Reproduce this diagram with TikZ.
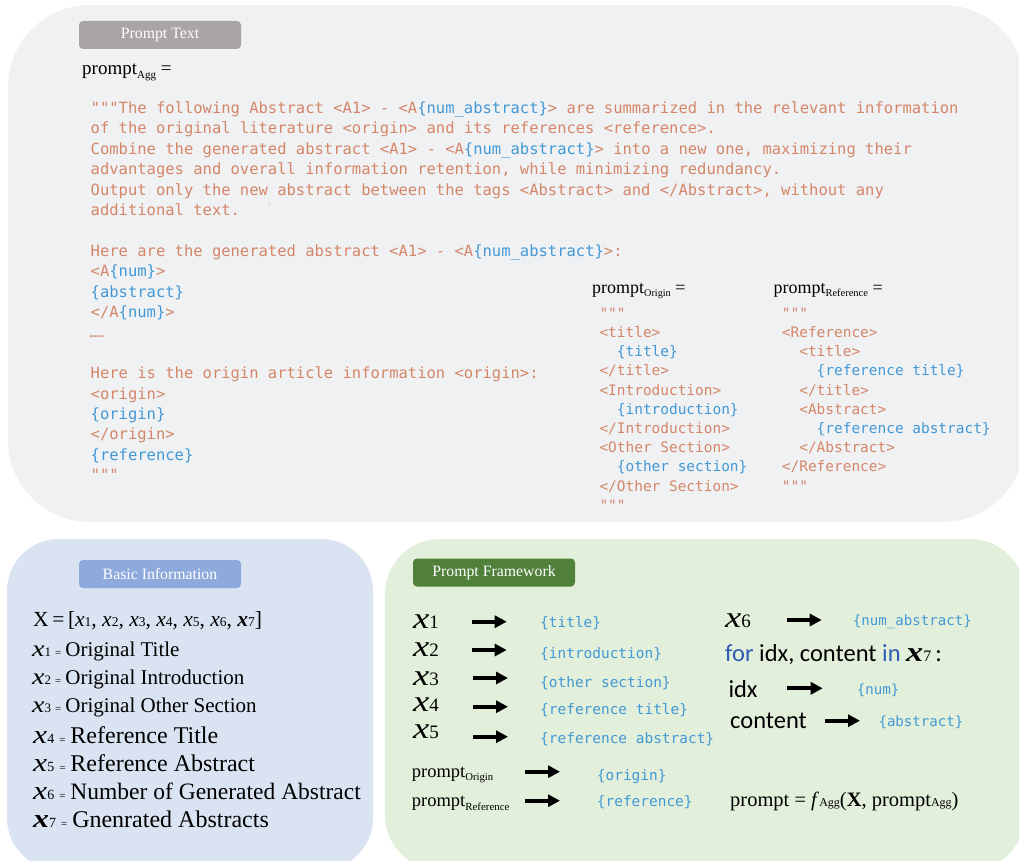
\documentclass[tikz,border=0pt]{standalone}
\usepackage{fontspec}
\usepackage{graphicx}
\setmainfont{Liberation Serif}
\setmonofont{DejaVu Sans Mono}
\newfontfamily\calib{Carlito}
\usetikzlibrary{arrows.meta}
\definecolor{panelgray}{RGB}{240,241,243}
\definecolor{taggray}{RGB}{168,165,164}
\definecolor{panelblue}{RGB}{218,227,242}
\definecolor{tagblue}{RGB}{142,169,219}
\definecolor{panelgreen}{RGB}{226,239,218}
\definecolor{taggreen}{RGB}{80,128,58}
\definecolor{codeor}{RGB}{213,134,105}
\definecolor{codebl}{RGB}{66,153,214}
\definecolor{forblue}{RGB}{46,92,178}
\newcommand\cb[1]{\textcolor{codebl}{#1}}
\newcommand\fs[1]{\fontsize{#1}{#1}\selectfont}
\newcommand\xv{\scalebox{1.22}[1]{\itshape x}}
\newcommand\xvb{\scalebox{1.22}[1]{\bfseries\itshape x}}
\newcommand\ind{\phantom{xx}}
\tikzset{
  tag/.style={rounded corners=4pt, minimum width=162pt, minimum height=28pt, inner sep=0pt, text=white, font=\fs{15.8}},
  codem/.style={font=\ttfamily\fs{15.5}, text=codeor, inner sep=0pt, anchor=base west},
  codes/.style={font=\ttfamily\fs{14.45}, text=codeor, inner sep=0pt, anchor=base west},
  codef/.style={font=\ttfamily\fs{14.45}, text=codebl, inner sep=0pt, anchor=base west},
  codeg/.style={font=\ttfamily\fs{14.1}, text=codebl, inner sep=0pt, anchor=base west},
  lbl/.style={inner sep=0pt, anchor=base west, text=black},
  xlbl/.style={lbl, text height=14pt, text depth=0.5pt},
  fat/.style={line width=4pt, -{Triangle[length=12pt,width=12pt]}},
}
\newcommand\mline[3]{\node[codem] (#1) at (90.5,#2) {#3};}
\newcommand\oline[3]{\node[codes] (#1) at (599.3,#2) {#3};}
\newcommand\rline[3]{\node[codes] (#1) at (781.7,#2) {#3};}
\begin{document}
\begin{tikzpicture}[x=1pt,y=-1pt]
\useasboundingbox (0,0) rectangle (1019,861);
\clip (0,0) rectangle (1019,861);
\fill[white] (0,0) rectangle (1019,861);
% panels
\fill[panelgray, rounded corners=82pt] (8,5) rectangle (1025,522);
\fill[panelblue, rounded corners=52pt] (7,539) rectangle (373,870);
\fill[panelgreen, rounded corners=55pt] (385,539) rectangle (1025,870);
% tags
\node[tag, fill=taggray] (tagtext) at (160,35) {Prompt Text};
\node[tag, fill=tagblue] (tagbasic) at (160,574) {Basic Information};
\node[tag, fill=taggreen] (tagframe) at (494,572.5) {Prompt Framework};
% prompt_Agg
\node[lbl, font=\fs{19}] (pagg) at (82,75) {prompt\raisebox{-3.3pt}{\fs{11}Agg} =};
% main code
\mline{m0}{113.5}{"""The following Abstract <A1> - <A\cb{\{num\_abstract\}}> are summarized in the relevant information}
\mline{m1}{133.9}{of the original literature <origin> and its references <reference>.}
\mline{m2}{154.3}{Combine the generated abstract <A1> - <A\cb{\{num\_abstract\}}> into a new one, maximizing their}
\mline{m3}{174.7}{advantages and overall information retention, while minimizing redundancy.}
\mline{m4}{195.1}{Output only the new abstract between the tags <Abstract> and </Abstract>, without any}
\mline{m5}{215.5}{additional text.}
\node[inner sep=0pt, anchor=base west, text=codeor!60, font=\ttfamily\fs{9}] (tick) at (266.5,211) {'};
\mline{m7}{256.3}{Here are the generated abstract <A1> - <A\cb{\{num\_abstract\}}>:}
\mline{m8}{276.7}{<A\cb{\{num\}}>}
\mline{m9}{297.1}{\cb{\{abstract\}}}
\mline{m10}{317.5}{</A\cb{\{num\}}>}
\node[inner sep=0pt, anchor=base west, text=codeor, font=\ttfamily\fs{12}] (m11) at (89.5,337.9) {……};
\mline{m13}{378.7}{Here is the origin article information <origin>:}
\mline{m14}{399.1}{<origin>}
\mline{m15}{419.5}{\cb{\{origin\}}}
\mline{m16}{439.9}{</origin>}
\mline{m17}{460.3}{\cb{\{reference\}}}
\mline{m18}{480.7}{"""}
% prompt origin
\node[lbl, font=\fs{18}] (porig) at (592,293.3) {prompt\raisebox{-3.4pt}{\fs{10.2}Origin} =};
\oline{o0}{318.3}{"""}
\oline{o1}{337.5}{<title>}
\oline{o2}{356.7}{\ind\cb{\{title\}}}
\oline{o3}{375.9}{</title>}
\oline{o4}{395.1}{<Introduction>}
\oline{o5}{414.3}{\ind\cb{\{introduction\}}}
\oline{o6}{433.5}{</Introduction>}
\oline{o7}{452.7}{<Other Section>}
\oline{o8}{471.9}{\ind\cb{\{other section\}}}
\oline{o9}{491.1}{</Other Section>}
\oline{o10}{510.3}{"""}
% prompt reference
\node[lbl, font=\fs{18}] (pref) at (773.3,293.3) {prompt\raisebox{-3.4pt}{\fs{10.5}Reference} =};
\rline{r0}{318.3}{"""}
\rline{r1}{337.5}{<Reference>}
\rline{r2}{356.7}{\ind<title>}
\rline{r3}{375.9}{\ind\ind\cb{\{reference title\}}}
\rline{r4}{395.1}{\ind</title>}
\rline{r5}{414.3}{\ind<Abstract>}
\rline{r6}{433.5}{\ind\ind\cb{\{reference abstract\}}}
\rline{r7}{452.7}{\ind</Abstract>}
\rline{r8}{471.9}{</Reference>}
\rline{r9}{491.1}{"""}
% basic information
\node[lbl, font=\fs{21.5}] (bx) at (33,626) {X\,=\,[\textit{x}{\fs{13.5}1}, \textit{x}{\fs{13.5}2}, \textit{x}{\fs{13.5}3}, \textit{x}{\fs{13.5}4}, \textit{x}{\fs{13.5}5}, \textit{x}{\fs{13.5}6}, \textbf{\textit{x}}{\fs{13.5}7}]};
\node[lbl, font=\fs{21}] (b1) at (32,656) {{\fs{23}\xv}{\fs{13}1}\hspace{4pt}{\fs{11}=}\hspace{4pt}Original Title};
\node[lbl, font=\fs{21}] (b2) at (32,684.3) {{\fs{23}\xv}{\fs{13}2}\hspace{4pt}{\fs{11}=}\hspace{4pt}Original Introduction};
\node[lbl, font=\fs{21}] (b3) at (32,712.7) {{\fs{23}\xv}{\fs{13}3}\hspace{4pt}{\fs{11}=}\hspace{4pt}Original Other Section};
\node[lbl, font=\fs{24}] (b4) at (33,743.3) {{\fs{26}\xv}{\fs{14}4}\hspace{5pt}{\fs{11}=}\hspace{5pt}Reference Title};
\node[lbl, font=\fs{24}] (b5) at (33,771.7) {{\fs{26}\xv}{\fs{14}5}\hspace{5pt}{\fs{11}=}\hspace{5pt}Reference Abstract};
\node[lbl, font=\fs{23.5}] (b6) at (33,799.3) {{\fs{26}\xv}{\fs{14}6}\hspace{5pt}{\fs{11}=}\hspace{5pt}Number of Generated Abstract};
\node[lbl, font=\fs{24}] (b7) at (33,827.7) {{\fs{26}\xvb}{\fs{14}7}\hspace{5pt}{\fs{11}=}\hspace{5pt}Gnenrated Abstracts};
% prompt framework left
\node[xlbl] (f1) at (413,628.3) {{\fs{30}\xv}{\fs{19}1}};
\node[xlbl] (f2) at (413,656.7) {{\fs{30}\xv}{\fs{19}2}};
\node[xlbl] (f3) at (413,685) {{\fs{30}\xv}{\fs{19}3}};
\node[xlbl] (f4) at (413,711.7) {{\fs{30}\xv}{\fs{19}4}};
\node[xlbl] (f5) at (413,738.3) {{\fs{30}\xv}{\fs{19}5}};
\node[lbl, font=\fs{18.5}] (fpo) at (411.7,777.3) {prompt\raisebox{-3.4pt}{\fs{10.7}Origin}};
\node[lbl, font=\fs{18.5}] (fpr) at (411.7,806.7) {prompt\raisebox{-3.4pt}{\fs{10.9}Reference}};
\node[codef] (t1) at (540,627) {\{title\}};
\node[codef] (t2) at (540,658) {\{introduction\}};
\node[codef] (t3) at (540,687) {\{other section\}};
\node[codef] (t4) at (540,714) {\{reference title\}};
\node[codef] (t5) at (540,743) {\{reference abstract\}};
\node[codef] (tpo) at (596.7,780) {\{origin\}};
\node[codef] (tpr) at (596.7,806.7) {\{reference\}};
\coordinate (a1s) at (471.7,621.7); \coordinate (a1e) at (506.7,621.7);
\coordinate (a2s) at (471.7,650);   \coordinate (a2e) at (506.7,650);
\coordinate (a3s) at (473,678);     \coordinate (a3e) at (508,678);
\coordinate (a4s) at (473,706.7);   \coordinate (a4e) at (508,706.7);
\coordinate (a5s) at (473,736.7);   \coordinate (a5e) at (508,736.7);
\coordinate (a6s) at (525,771.7);   \coordinate (a6e) at (560,771.7);
\coordinate (a7s) at (525,800.7);   \coordinate (a7e) at (560,800.7);
\foreach \i in {1,...,7} {\draw[fat] (a\i s) -- (a\i e);}
% prompt framework right
\node[xlbl] (f6) at (725,627.7) {{\fs{30}\xv}{\fs{19}6}};
\node[codeg] (t6) at (852.7,625) {\{num\_abstract\}};
\node[lbl, font=\calib\fs{24.5}] (forl) at (725,661.7) {\textcolor{forblue}{for} idx, content \textcolor{forblue}{in} {\rmfamily\fs{28}\xvb}{\rmfamily\fs{16}7}\,:};
\node[lbl, font=\calib\fs{24.5}] (fidx) at (728.3,697.3) {idx};
\node[lbl, font=\calib\fs{24.5}] (fcon) at (730,728.3) {content};
\node[codeg] (tnum) at (856.7,694) {\{num\}};
\node[codeg] (tabs) at (878.3,726.7) {\{abstract\}};
\coordinate (a8s) at (787.3,620);   \coordinate (a8e) at (821.7,620);
\coordinate (a9s) at (787.3,688.3); \coordinate (a9e) at (822.7,688.3);
\coordinate (a10s) at (825,720.7);  \coordinate (a10e) at (860,720.7);
\foreach \i in {8,9,10} {\draw[fat] (a\i s) -- (a\i e);}
\node[lbl, font=\fs{20.5}] (formula) at (730,806.7) {prompt = \textit{f}{\fs{12}Agg}(\textbf{X}, prompt{\fs{12}Agg})};
\end{tikzpicture}
\end{document}
